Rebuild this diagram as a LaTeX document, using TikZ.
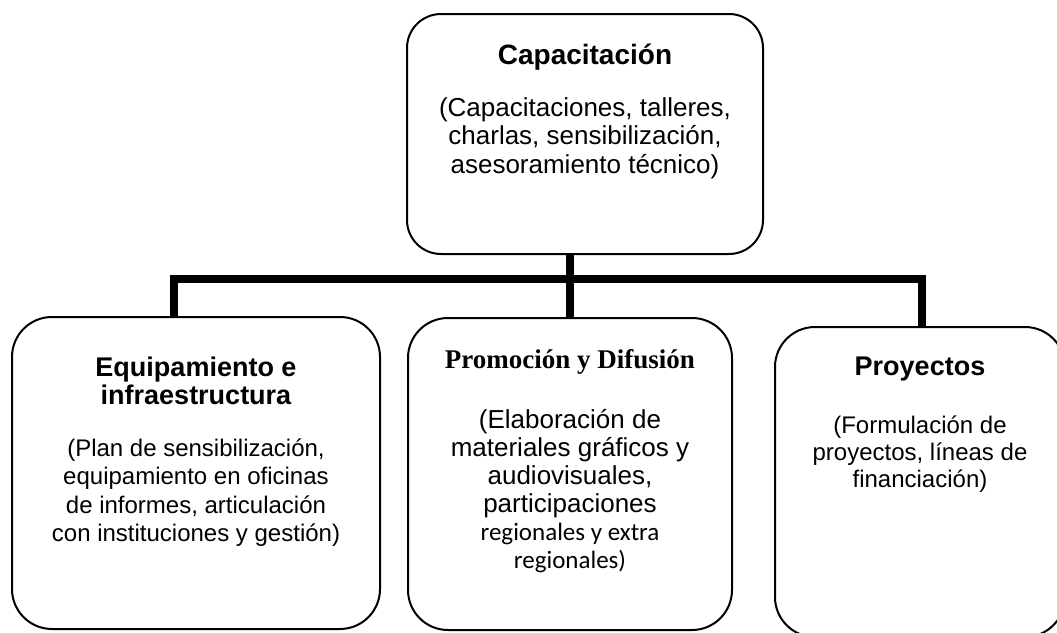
\documentclass[tikz,border=0pt]{standalone}
\usepackage{fontspec}
\setmainfont{Liberation Sans}
\newfontfamily\timesfont{Liberation Serif}
\newfontfamily\calibrifont{Carlito}
\setlength{\parindent}{0pt}
\usetikzlibrary{positioning}

\begin{document}
\begin{tikzpicture}[x=0.5pt,y=-0.5pt,
        box/.style={draw, line width=1pt, rounded corners=20pt, inner sep=0pt},
        ttl/.style={inner sep=0pt, align=flush center, text width=150pt, font=\bfseries\fontsize{13.5}{13.8}\selectfont},
        txt/.style={inner sep=0pt, align=flush center, text width=170pt, font=\fontsize{12}{14.3}\selectfont},
        bar/.style={line width=4pt}]
        \useasboundingbox (0,0) rectangle (1057,633);

        \node (cap) [box, rounded corners=17pt, minimum width=178pt, minimum height=120pt] at (585,134) {};
        \node (equip) [box, minimum width=184pt, minimum height=156pt] at (196,473) {};
        \node (promo) [box, minimum width=162pt, minimum height=156pt] at (570,474) {};
        \node (proy) [box, minimum width=145pt, minimum height=155pt] at (920,482) {};

        \node (capT) [ttl, font=\bfseries\fontsize{14}{14}\selectfont, below=15.5pt of cap.north] {Capacitación};
        \node (capB) [txt, font=\fontsize{13}{14.3}\selectfont, below=12.9pt of capT]
              {(Capacitaciones, talleres,\\charlas, sensibilización,\\asesoramiento técnico)};

        \node (equipT) [ttl, below=20.5pt of equip.north] {Equipamiento e\\infraestructura};
        \node (equipB) [txt, below=16.4pt of equipT]
              {(Plan de sensibilización,\\equipamiento en oficinas\\de informes, articulación\\con instituciones y gestión)};

        \node (promoT) [ttl, font=\timesfont\bfseries\fontsize{13.5}{14}\selectfont, below=16pt of promo.north] {Promoción y Difusión};
        \node (promoB) [txt, font=\fontsize{13}{14}\selectfont, below=17.4pt of promoT]
              {(Elaboración de\\materiales gráficos y\\audiovisuales,\\participaciones\\{\calibrifont\fontsize{12.5}{14}\selectfont regionales y extra}\\{\calibrifont\fontsize{12.5}{14}\selectfont regionales)}};

        \node (proyT) [ttl, below=15.2pt of proy.north] {Proyectos};
        \node (proyB) [txt, font=\fontsize{12}{13.5}\selectfont, below=16.9pt of proyT]
              {(Formulación de\\proyectos, líneas de\\financiación)};

        % connectors
        \coordinate (busL) at (174,279);
        \coordinate (busR) at (922,279);
        \draw[bar] (busL |- equip.north) -- (busL) -- (busR) -- (busR |- proy.north);
        \draw[bar] (cap.south -| promo.north) -- (promo.north);
    \end{tikzpicture}
\end{document}
